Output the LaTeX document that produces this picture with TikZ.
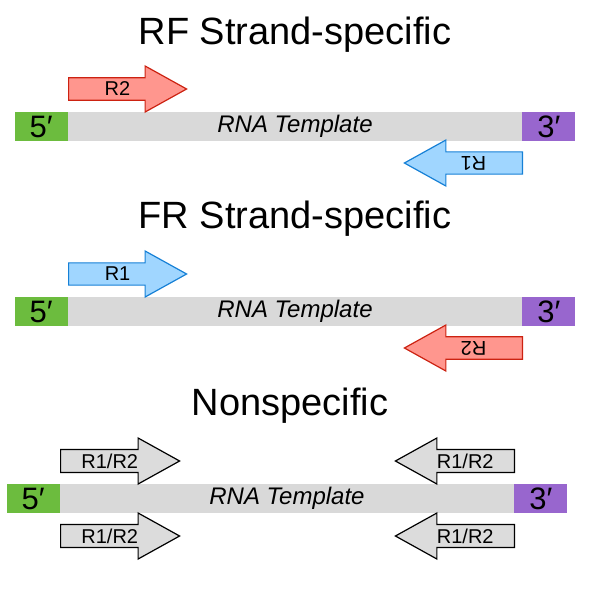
\documentclass[tikz,border=0pt]{standalone}
\usepackage{fontspec}
\setmainfont{Liberation Sans}
\usetikzlibrary{shapes.arrows}

\definecolor{endgreen}{RGB}{108,188,62}
\definecolor{endpurple}{RGB}{152,102,206}
\definecolor{bargray}{RGB}{217,217,217}
\definecolor{redfill}{RGB}{255,150,142}
\definecolor{reddraw}{RGB}{204,34,17}
\definecolor{bluefill}{RGB}{160,214,255}
\definecolor{bluedraw}{RGB}{22,128,214}
\definecolor{grayfill}{RGB}{220,220,220}

\begin{document}
\begin{tikzpicture}[x=1pt, y=-1pt,
    heading/.style={font=\fontsize{38}{42}\selectfont},
    template/.style={rectangle, fill=bargray, minimum width=454pt, minimum height=29pt,
      inner sep=0pt, font=\fontsize{24}{26}\selectfont\itshape},
    endbox/.style={rectangle, minimum width=53pt, minimum height=29pt, inner sep=0pt,
      font=\fontsize{31}{33}\selectfont},
    read/.style={single arrow, line width=1.2pt, minimum width=46pt, minimum height=118pt,
      single arrow head extend=8pt, single arrow tip angle=58, inner sep=0pt,
      font=\fontsize{20}{22}\selectfont},
    redread/.style={read, fill=redfill, draw=reddraw},
    blueread/.style={read, fill=bluefill, draw=bluedraw},
    grayread/.style={read, fill=grayfill, draw=black, minimum height=119pt}
  ]
  \useasboundingbox (0,0) rectangle (590,590);

  % templates with 5' and 3' ends
  \foreach \name/\dx/\y in {rf/0/126.5, fr/0/311.5, ns/-8/498.5} {
    \node[template] (\name bar) at (295+\dx,\y) {RNA Template};
    \node[endbox, fill=endgreen, anchor=east] (\name five) at (\name bar.west) {5′};
    \node[endbox, fill=endpurple, anchor=west] (\name three) at (\name bar.east) {3′};
  }

  % RF strand-specific
  \node[heading] (rftitle) at (295,35) {RF Strand-specific};
  \node[redread, anchor=tail] (rfrtwo) at (68,89) {R2};
  \node[blueread, rotate=180, anchor=tail] (rfrone) at (523,163) {R1};

  % FR strand-specific
  \node[heading] (frtitle) at (295,219) {FR Strand-specific};
  \node[blueread, anchor=tail] (frrone) at (68,274) {R1};
  \node[redread, rotate=180, anchor=tail] (frrtwo) at (523,348) {R2};

  % nonspecific
  \node[heading] (nstitle) at (290,406) {Nonspecific};
  \node[grayread, anchor=tail] (nstopleft) at (60,461) {R1/R2};
  \node[grayread, shape border rotate=180, anchor=tail] (nstopright) at (515,461) {R1/R2};
  \node[grayread, anchor=tail] (nsbotleft) at (60,536) {R1/R2};
  \node[grayread, shape border rotate=180, anchor=tail] (nsbotright) at (515,536) {R1/R2};
\end{tikzpicture}
\end{document}
